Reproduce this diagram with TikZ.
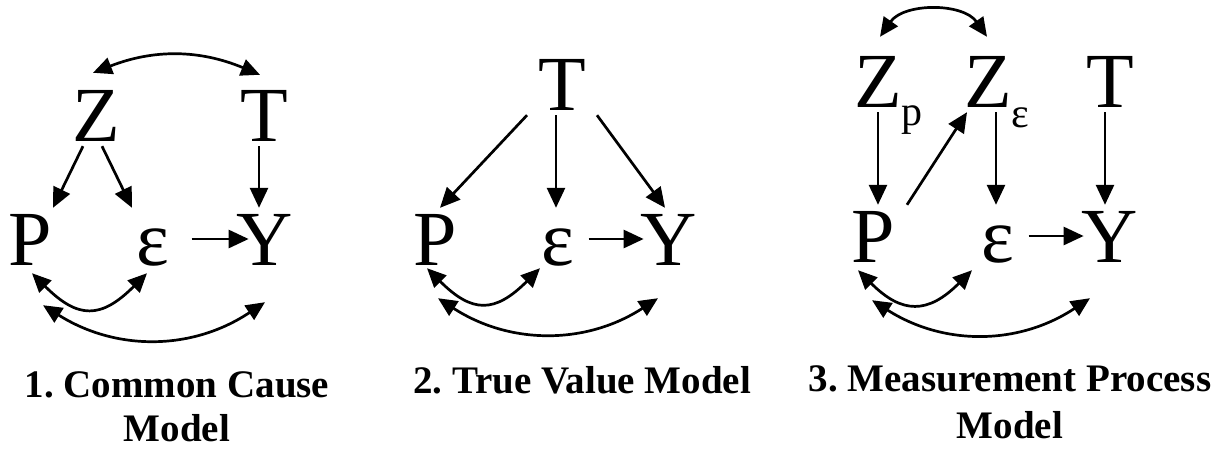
\documentclass[tikz,border=0pt]{standalone}
\usepackage{fontspec}
\setmainfont{Liberation Serif}
\usetikzlibrary{arrows.meta}
\frenchspacing
\newcommand{\subvar}[2]{\rlap{\raisebox{-#1}{\fontsize{42}{42}\selectfont #2}}}
\tikzset{
  var/.style={anchor=base, inner sep=5pt, text height=52pt, text depth=0pt,
              font=\fontsize{78}{80}\selectfont},
  modelname/.style={anchor=base, align=center, inner sep=0pt,
              font=\fontsize{39}{47}\selectfont\bfseries},
  flow/.style={-{Triangle[length=20pt,width=18pt]}, line width=2.7pt},
  bidir/.style={{Triangle[length=19pt,width=17pt]}-{Triangle[length=19pt,width=17pt]}, line width=2.7pt},
}
\begin{document}
\begin{tikzpicture}[x=1pt, y=-1pt]
\useasboundingbox (0,0) rectangle (1228,450);

% ---- 1. common cause model ------------------------------------------------
\node[var] (Z1) at (96,141) {Z};
\node[var] (T1) at (264,141) {T};
\node[var] (P1) at (30,265) {P};
\node[var] (e1) at (153,265) {ε};
\node[var] (Y1) at (265,265) {Y};
\node[modelname, font=\fontsize{39}{44}\selectfont\bfseries] (m1) at (177,441) {1. Common Cause\\Model};

% ---- 2. true value model --------------------------------------------------
\node[var] (T2) at (562,110) {T};
\node[var] (P2) at (435,265) {P};
\node[var] (e2) at (558,265) {ε};
\node[var] (Y2) at (669,265) {Y};
\node[modelname] (m2) at (582,393) {2. True Value Model};

% ---- 3. measurement process model -----------------------------------------
\node[var] (Zp) at (878,107) {Z\subvar{18pt}{p}};
\node[var] (Ze) at (988,107) {Z\subvar{20pt}{ε}};
\node[var] (T3) at (1110,107) {T};
\node[var] (P3) at (873,262) {P};
\node[var] (e3) at (998,262) {ε};
\node[var] (Y3) at (1110,262) {Y};
\node[modelname] (m3) at (1010,438) {3. Measurement Process\\Model};

% ---- arrows, model 1 --------------------------------------------------------
\draw[flow] ([xshift=-13pt]Z1.south) -- ([xshift=23pt]P1.north);
\draw[flow] ([xshift=6pt]Z1.south) -- ([xshift=-21pt]e1.north);
\draw[flow] ([xshift=-5pt]T1.south) -- ([xshift=-6pt]Y1.north);
\draw[flow] ([xshift=17pt]e1.east) -- ([xshift=17pt]Y1.west);
\draw[bidir] ([shift={(-3pt,11pt)}]Z1.north) to[bend left=22] ([shift={(-4pt,9pt)}]T1.north);
\draw[bidir] ([shift={(2pt,-3pt)}]P1.south) to[bend right=45, looseness=1.45] ([shift={(-6pt,-3pt)}]e1.south);
\draw[bidir] ([shift={(13pt,-35pt)}]P1.south) to[bend right=33] ([shift={(0pt,-32pt)}]Y1.south);

% ---- arrows, model 2 --------------------------------------------------------
\draw[flow] ([xshift=-35pt]T2.south) -- ([xshift=5pt]P2.north);
\draw[flow] ([xshift=-6pt]T2.south) -- ([xshift=-2pt]e2.north);
\draw[flow] ([xshift=35pt]T2.south) -- ([xshift=-4pt]Y2.north);
\draw[flow] ([xshift=9pt]e2.east) -- ([xshift=8pt]Y2.west);
\draw[bidir] ([shift={(-8pt,2pt)}]P2.south) to[bend right=45, looseness=1.45] ([shift={(-18pt,2pt)}]e2.south);
\draw[bidir] ([shift={(3pt,-28pt)}]P2.south) to[bend right=33] ([shift={(-11pt,-28pt)}]Y2.south);

% ---- arrows, model 3 --------------------------------------------------------
\draw[flow] (Zp.south) -- ([xshift=5pt]P3.north);
\draw[flow] ([xshift=34pt]P3.north) -- ([xshift=-21pt]Ze.south);
\draw[flow] ([xshift=8pt]Ze.south) -- ([xshift=-2pt]e3.north);
\draw[flow] ([xshift=-5pt]T3.south) -- ([xshift=-5pt]Y3.north);
\draw[flow] ([xshift=9pt]e3.east) -- ([xshift=7pt]Y3.west);
\draw[bidir] ([shift={(2pt,13pt)}]Zp.north) to[bend left=55] ([shift={(-1pt,13pt)}]Ze.north);
\draw[bidir] ([shift={(-15pt,-3pt)}]P3.south) to[bend right=45, looseness=1.4] ([shift={(-26pt,-3pt)}]e3.south);
\draw[bidir] ([shift={(-1pt,-33pt)}]P3.south) to[bend right=33] ([shift={(-20pt,-31pt)}]Y3.south);
\end{tikzpicture}
\end{document}
